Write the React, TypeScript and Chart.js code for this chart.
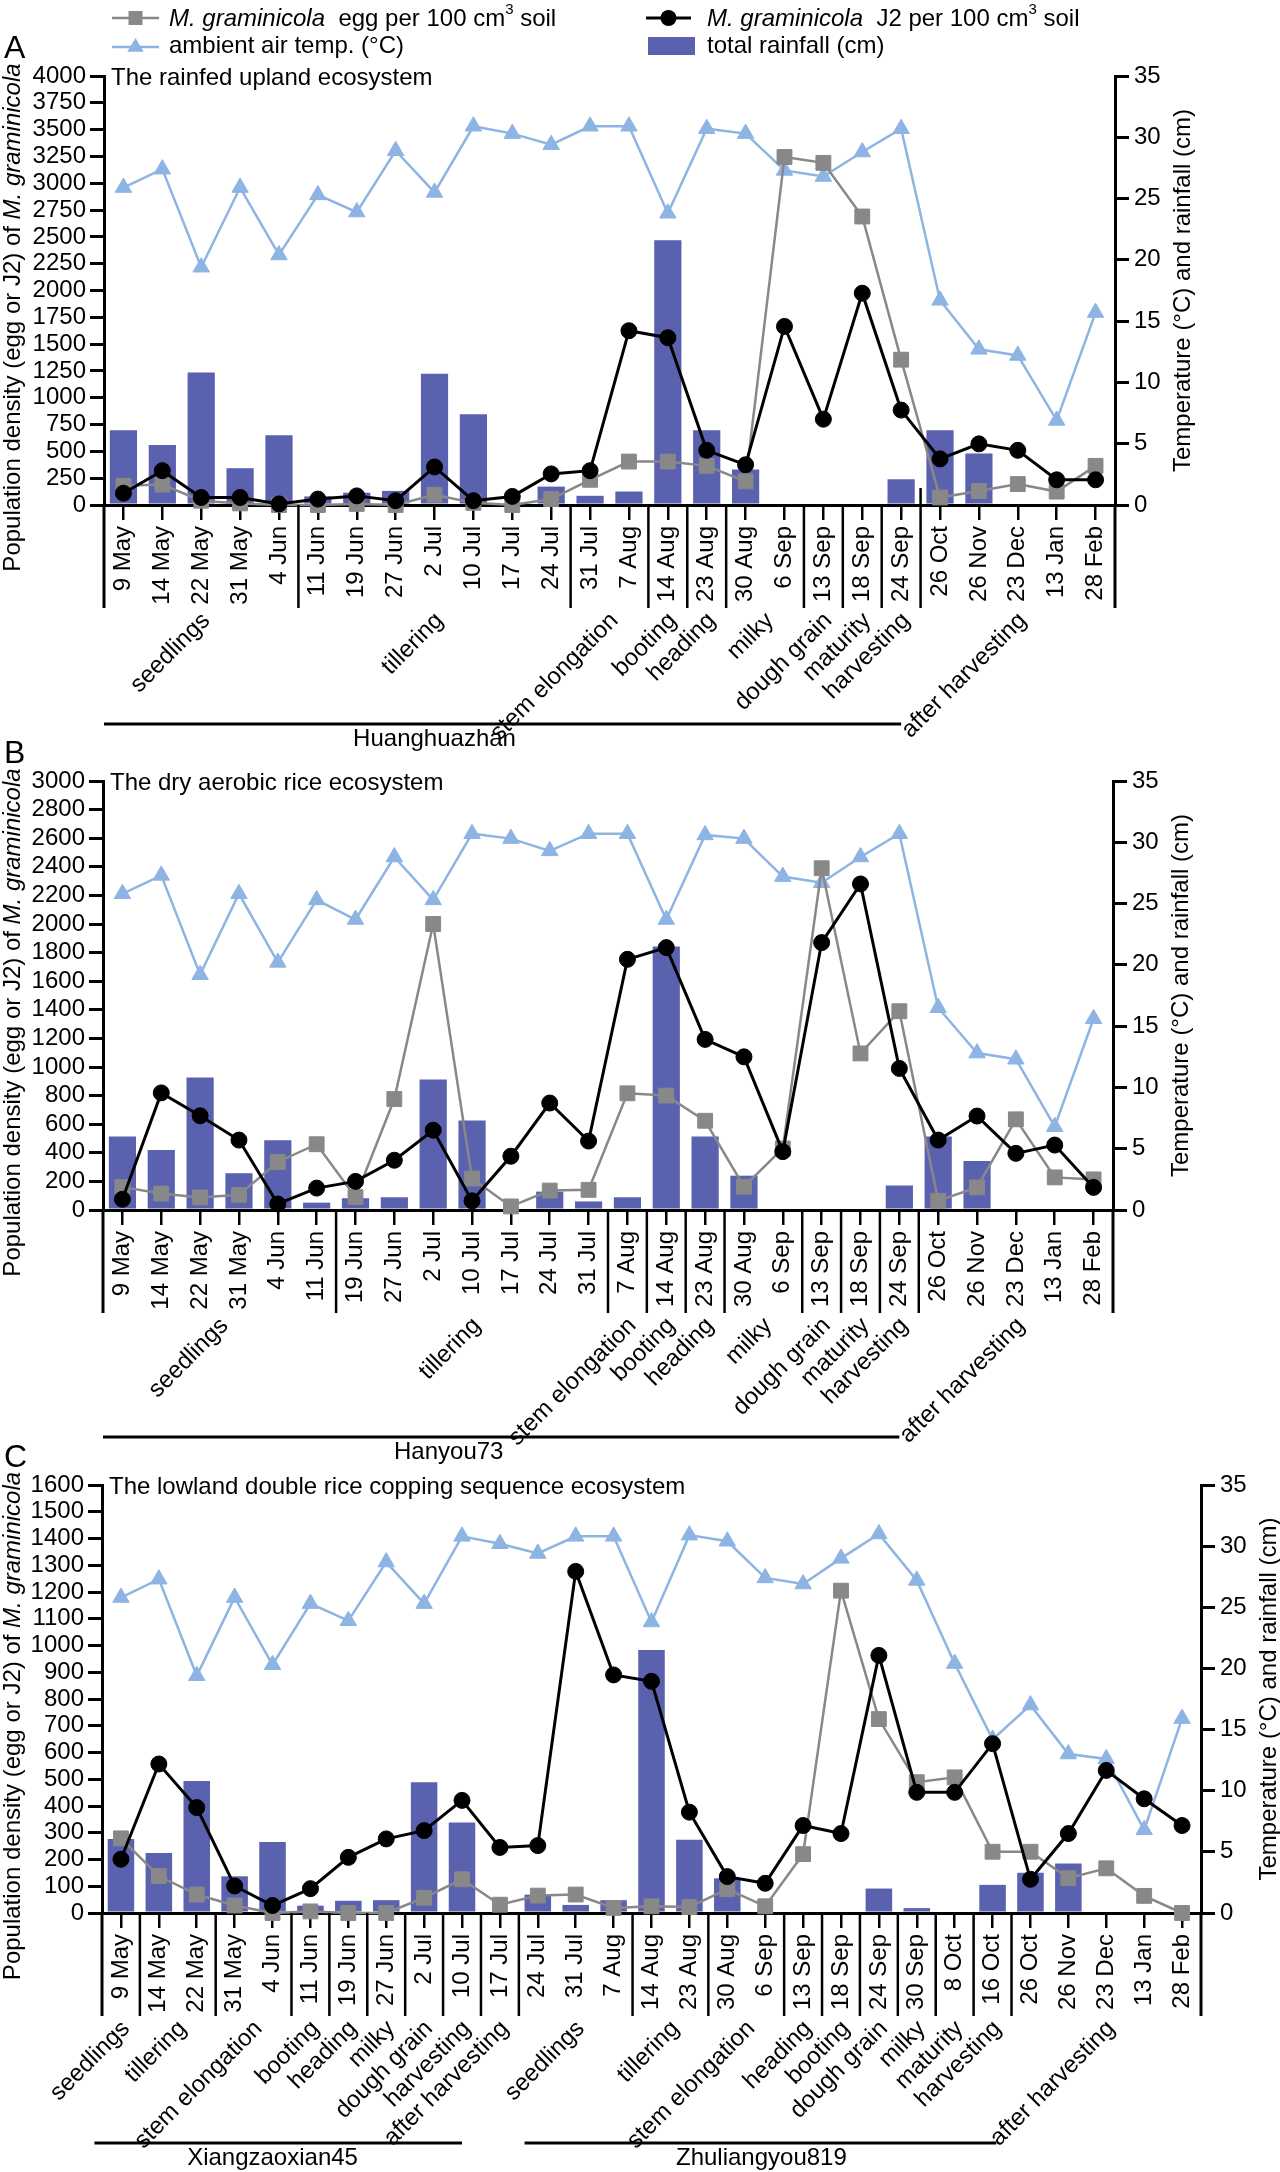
import React, { useEffect, useRef } from 'react';
import { Chart, registerables } from 'chart.js';

Chart.register(...registerables);

const FONT = '"Liberation Sans", Arial, Helvetica, sans-serif';

// ---------- categories ----------
const datesAB = ['9 May', '14 May', '22 May', '31 May', '4 Jun', '11 Jun', '19 Jun', '27 Jun', '2 Jul', '10 Jul', '17 Jul', '24 Jul', '31 Jul', '7 Aug', '14 Aug', '23 Aug', '30 Aug', '6 Sep', '13 Sep', '18 Sep', '24 Sep', '26 Oct', '26 Nov', '23 Dec', '13 Jan', '28 Feb'];
const datesC = ['9 May', '14 May', '22 May', '31 May', '4 Jun', '11 Jun', '19 Jun', '27 Jun', '2 Jul', '10 Jul', '17 Jul', '24 Jul', '31 Jul', '7 Aug', '14 Aug', '23 Aug', '30 Aug', '6 Sep', '13 Sep', '18 Sep', '24 Sep', '30 Sep', '8 Oct', '16 Oct', '26 Oct', '26 Nov', '23 Dec', '13 Jan', '28 Feb'];

// ---------- panel A: rainfed upland ----------
const eggA = [180, 190, 40, 15, 0, 0, 10, 0, 95, 20, 0, 55, 235, 405, 405, 365, 220, 3245, 3190, 2690, 1355, 70, 130, 195, 125, 365];
const j2A = [110, 320, 70, 70, 10, 55, 85, 40, 355, 40, 80, 290, 320, 1625, 1560, 510, 375, 1665, 800, 1975, 885, 430, 570, 510, 235, 235];
const tempA = [25.9, 27.4, 19.4, 25.9, 20.4, 25.3, 23.9, 28.9, 25.5, 30.9, 30.3, 29.4, 30.9, 30.9, 23.8, 30.7, 30.3, 27.3, 26.8, 28.8, 30.7, 16.7, 12.7, 12.2, 6.9, 15.7];
const rainA = [6.1, 4.9, 10.8, 3.0, 5.7, 0.7, 1.0, 1.15, 10.7, 7.4, 0, 1.5, 0.75, 1.1, 21.6, 6.1, 2.9, 0, 0, 0, 2.1, 6.1, 4.2, 0, 0, 0];

// ---------- panel B: dry aerobic rice ----------
const eggB = [160, 115, 88, 106, 336, 460, 90, 776, 2000, 220, 25, 136, 141, 816, 800, 624, 163, 430, 2390, 1095, 1390, 65, 158, 634, 228, 214];
const j2B = [75, 819, 659, 489, 42, 153, 200, 348, 558, 64, 376, 748, 482, 1753, 1835, 1193, 1071, 408, 1870, 2280, 990, 489, 657, 396, 454, 158];
const tempB = [25.8, 27.3, 19.2, 25.8, 20.2, 25.3, 23.7, 28.8, 25.3, 30.7, 30.3, 29.3, 30.7, 30.7, 23.7, 30.6, 30.3, 27.2, 26.7, 28.8, 30.7, 16.5, 12.8, 12.3, 6.8, 15.6];
const rainB = [6.0, 4.9, 10.8, 3.0, 5.7, 0.6, 0.96, 1.04, 10.65, 7.3, 0, 1.5, 0.7, 1.04, 21.5, 6.0, 2.8, 0, 0, 0, 2.0, 6.0, 4.0, 0, 0, 0];

// ---------- panel C: lowland double rice ----------
const eggC = [279, 138, 69, 28, 0, 6, 0, 0, 57, 126, 31, 65, 69, 19, 25, 22, 89, 25, 220, 1205, 725, 489, 507, 229, 229, 130, 167, 64, 0];
const j2C = [201, 557, 394, 101, 28, 91, 208, 277, 308, 421, 245, 252, 1277, 890, 866, 377, 136, 111, 327, 297, 963, 451, 451, 633, 126, 297, 533, 427, 327];
const tempC = [25.8, 27.3, 19.4, 25.8, 20.3, 25.3, 23.9, 28.7, 25.3, 30.8, 30.2, 29.4, 30.8, 30.8, 23.8, 30.9, 30.4, 27.4, 26.9, 29.0, 31.0, 27.2, 20.4, 14.2, 17.0, 13.0, 12.6, 6.8, 15.9];
const rainC = [6.05, 4.9, 10.8, 3.0, 5.8, 0.6, 1.0, 1.05, 10.7, 7.4, 0, 1.5, 0.66, 1.05, 21.5, 6.0, 2.84, 0, 0, 0, 2.0, 0.4, 0, 2.3, 3.3, 4.05, 0, 0, 0];

// ---------- growth stages (category index ranges) ----------
const stagesA = [
  { label: 'seedlings', from: 0, to: 4 },
  { label: 'tillering', from: 5, to: 11 },
  { label: 'stem elongation', from: 12, to: 13 },
  { label: 'booting', from: 14, to: 14 },
  { label: 'heading', from: 15, to: 15 },
  { label: 'milky', from: 16, to: 17 },
  { label: 'dough grain', from: 18, to: 18 },
  { label: 'maturity', from: 19, to: 19 },
  { label: 'harvesting', from: 20, to: 20 },
  { label: 'after harvesting', from: 21, to: 25 },
];
const stagesB = [
  { label: 'seedlings', from: 0, to: 5 },
  { label: 'tillering', from: 6, to: 12 },
  { label: 'stem elongation', from: 13, to: 13 },
  { label: 'booting', from: 14, to: 14 },
  { label: 'heading', from: 15, to: 15 },
  { label: 'milky', from: 16, to: 17 },
  { label: 'dough grain', from: 18, to: 18 },
  { label: 'maturity', from: 19, to: 19 },
  { label: 'harvesting', from: 20, to: 20 },
  { label: 'after harvesting', from: 21, to: 25 },
];
const stagesC = [
  { label: 'seedlings', from: 0, to: 0 },
  { label: 'tillering', from: 1, to: 2 },
  { label: 'stem elongation', from: 3, to: 4 },
  { label: 'booting', from: 5, to: 5 },
  { label: 'heading', from: 6, to: 6 },
  { label: 'milky', from: 7, to: 7 },
  { label: 'dough grain', from: 8, to: 8 },
  { label: 'harvesting', from: 9, to: 9 },
  { label: 'after harvesting', from: 10, to: 10 },
  { label: 'seedlings', from: 11, to: 13 },
  { label: 'tillering', from: 14, to: 15 },
  { label: 'stem elongation', from: 16, to: 17 },
  { label: 'heading', from: 18, to: 18 },
  { label: 'booting', from: 19, to: 19 },
  { label: 'dough grain', from: 20, to: 20 },
  { label: 'milky', from: 21, to: 21 },
  { label: 'maturity', from: 22, to: 22 },
  { label: 'harvesting', from: 23, to: 23 },
  { label: 'after harvesting', from: 24, to: 28 },
];

// cultivar brackets (positions in category units)
const cultivarsA = [{ name: 'Huanghuazhan', lineFrom: -0.5, lineTo: 20, textAt: 8 }];
const cultivarsB = [{ name: 'Hanyou73', lineFrom: -0.5, lineTo: 20, textAt: 8.4 }];
const cultivarsC = [
  { name: 'Xiangzaoxian45', lineFrom: -0.7, lineTo: 9, textAt: 4 },
  { name: 'Zhuliangyou819', lineFrom: 10.65, lineTo: 23.1, textAt: 16.9 },
];

const COLORS = { egg: '#888888', j2: '#000000', temp: '#8db4e2', rain: '#5a61ae' };

type Seg = { t: string; i?: boolean; sup?: boolean };

function segFont(s: Seg, size: number) {
  return `${s.i ? 'italic ' : ''}${s.sup ? Math.round(size * 0.62) : size}px ${FONT}`;
}
function measureRich(ctx: CanvasRenderingContext2D, segs: Seg[], size: number) {
  let w = 0;
  for (const s of segs) {
    ctx.font = segFont(s, size);
    w += ctx.measureText(s.t).width;
  }
  return w;
}
function drawRich(ctx: CanvasRenderingContext2D, segs: Seg[], x: number, y: number, size: number) {
  let cx = x;
  for (const s of segs) {
    ctx.font = segFont(s, size);
    ctx.fillText(s.t, cx, s.sup ? y - size * 0.5 : y);
    cx += ctx.measureText(s.t).width;
  }
}

function line(ctx: CanvasRenderingContext2D, x1: number, y1: number, x2: number, y2: number) {
  ctx.beginPath();
  ctx.moveTo(x1, y1);
  ctx.lineTo(x2, y2);
  ctx.stroke();
}

function drawLegend(ctx: CanvasRenderingContext2D) {
  ctx.save();
  ctx.textAlign = 'left';
  ctx.textBaseline = 'alphabetic';
  ctx.fillStyle = '#000';
  // egg
  ctx.strokeStyle = COLORS.egg;
  ctx.lineWidth = 2.5;
  line(ctx, 112, 18, 159, 18);
  ctx.fillStyle = COLORS.egg;
  ctx.fillRect(128.5, 11, 14, 14);
  ctx.fillStyle = '#000';
  drawRich(ctx, [{ t: 'M. graminicola', i: true }, { t: '  egg per 100 cm' }, { t: '3', sup: true }, { t: ' soil' }], 169, 26, 24);
  // temp
  ctx.strokeStyle = COLORS.temp;
  line(ctx, 112, 47, 159, 47);
  ctx.fillStyle = COLORS.temp;
  ctx.beginPath();
  ctx.moveTo(135.5, 38);
  ctx.lineTo(135.5 - 9.5 * 0.866, 47 + 4.75);
  ctx.lineTo(135.5 + 9.5 * 0.866, 47 + 4.75);
  ctx.closePath();
  ctx.fill();
  ctx.fillStyle = '#000';
  drawRich(ctx, [{ t: 'ambient air temp. (°C)' }], 169, 53, 24);
  // J2
  ctx.strokeStyle = '#000';
  ctx.lineWidth = 3;
  line(ctx, 646, 18, 691, 18);
  ctx.beginPath();
  ctx.arc(668.5, 18, 8, 0, Math.PI * 2);
  ctx.fill();
  drawRich(ctx, [{ t: 'M. graminicola', i: true }, { t: '  J2 per 100 cm' }, { t: '3', sup: true }, { t: ' soil' }], 707, 26, 24);
  // rain
  ctx.fillStyle = COLORS.rain;
  ctx.fillRect(648, 37, 47, 18);
  ctx.fillStyle = '#000';
  drawRich(ctx, [{ t: 'total rainfall (cm)' }], 707, 53, 24);
  ctx.restore();
}

function makeDecor(cfg: any) {
  return {
    id: 'decor' + cfg.letter,
    afterDraw(chart: any) {
      const ctx: CanvasRenderingContext2D = chart.ctx;
      const a = chart.chartArea;
      const xs = chart.scales.x;
      const p0 = xs.getPixelForValue(0);
      const step = xs.getPixelForValue(1) - p0;
      const pos = (p: number) => p0 + p * step;
      ctx.save();
      ctx.fillStyle = '#000';
      ctx.strokeStyle = '#000';
      // dividers between growth stages
      const DL = 103;
      ctx.lineWidth = 2.5;
      cfg.stages.slice(0, -1).forEach((s: any) => {
        const x = pos(s.to + 0.5);
        const y0 = cfg.upDivider === s.to ? a.bottom - 17 : a.bottom;
        line(ctx, x, y0, x, a.bottom + DL);
      });
      ctx.lineWidth = 3;
      line(ctx, a.left, a.bottom, a.left, a.bottom + DL);
      line(ctx, a.right, a.bottom, a.right, a.bottom + DL);
      // stage labels
      ctx.font = `24px ${FONT}`;
      ctx.textAlign = 'right';
      ctx.textBaseline = 'middle';
      cfg.stages.forEach((s: any) => {
        const cx = pos((s.from + s.to) / 2) + 5;
        ctx.save();
        ctx.translate(cx, a.bottom + 112);
        ctx.rotate(-Math.PI / 4);
        ctx.fillText(s.label, 0, 0);
        ctx.restore();
      });
      // cultivar brackets
      ctx.lineWidth = 3;
      ctx.textAlign = 'center';
      ctx.textBaseline = 'alphabetic';
      cfg.cultivars.forEach((c: any) => {
        const y = a.bottom + cfg.cultivarDy;
        line(ctx, pos(c.lineFrom), y, pos(c.lineTo), y);
        ctx.fillText(c.name, pos(c.textAt), y + 22);
      });
      // in-plot title
      ctx.textAlign = 'left';
      ctx.fillText(cfg.title, a.left + 7, a.top + 9);
      // panel letter
      ctx.font = `32px ${FONT}`;
      ctx.fillText(cfg.letter, 4, a.top - 18);
      // left axis title
      const mid = (a.top + a.bottom) / 2;
      const segs: Seg[] = [{ t: 'Population density (egg or J2) of ' }, { t: 'M. graminicola', i: true }];
      const w = measureRich(ctx, segs, 24);
      ctx.save();
      ctx.translate(13, mid + 27);
      ctx.rotate(-Math.PI / 2);
      ctx.textBaseline = 'middle';
      drawRich(ctx, segs, -w / 2, 0, 24);
      ctx.restore();
      // right axis title
      ctx.save();
      ctx.translate(a.right + 68, mid);
      ctx.rotate(-Math.PI / 2);
      ctx.textAlign = 'center';
      ctx.textBaseline = 'middle';
      ctx.font = `24px ${FONT}`;
      ctx.fillText('Temperature (°C) and rainfall (cm)', 0, 0);
      ctx.restore();
      if (cfg.legend) drawLegend(ctx);
      ctx.restore();
    },
  };
}

const tickFont = { family: FONT, size: 24 };
const plainNumber = (v: any) => String(v);

const panels = [
  {
    letter: 'A', canvasTop: 0, canvasHeight: 770,
    pad: { left: 104, right: 165, top: 76, bottom: 265 },
    labels: datesAB, egg: eggA, j2: j2A, temp: tempA, rain: rainA,
    yMax: 4000, yStep: 250, title: 'The rainfed upland ecosystem',
    stages: stagesA, cultivars: cultivarsA, cultivarDy: 219, upDivider: 20, legend: true,
  },
  {
    letter: 'B', canvasTop: 720, canvasHeight: 750,
    pad: { left: 103, right: 167, top: 61, bottom: 260 },
    labels: datesAB, egg: eggB, j2: j2B, temp: tempB, rain: rainB,
    yMax: 3000, yStep: 200, title: 'The dry aerobic rice ecosystem',
    stages: stagesB, cultivars: cultivarsB, cultivarDy: 227, upDivider: -1, legend: false,
  },
  {
    letter: 'C', canvasTop: 1420, canvasHeight: 752,
    pad: { left: 102, right: 79, top: 65, bottom: 259 },
    labels: datesC, egg: eggC, j2: j2C, temp: tempC, rain: rainC,
    yMax: 1600, yStep: 100, title: 'The lowland double rice copping sequence ecosystem',
    stages: stagesC, cultivars: cultivarsC, cultivarDy: 230, upDivider: -1, legend: false,
  },
];

function Panel({ cfg }: { cfg: any }) {
  const ref = useRef<HTMLCanvasElement>(null);
  useEffect(() => {
    const chart = new Chart(ref.current as HTMLCanvasElement, {
      type: 'bar',
      data: {
        labels: cfg.labels,
        datasets: [
          {
            type: 'line', label: 'J2', data: cfg.j2, yAxisID: 'y',
            borderColor: COLORS.j2, backgroundColor: COLORS.j2, borderWidth: 3,
            pointStyle: 'circle', pointRadius: 8, pointBorderWidth: 1, tension: 0, order: 1, clip: false,
          } as any,
          {
            type: 'line', label: 'egg', data: cfg.egg, yAxisID: 'y',
            borderColor: COLORS.egg, backgroundColor: COLORS.egg, borderWidth: 2.5,
            pointStyle: 'rect', pointRadius: 10.5, pointBorderWidth: 1, tension: 0, order: 2, clip: false,
          } as any,
          {
            type: 'line', label: 'temp', data: cfg.temp, yAxisID: 'y2',
            borderColor: COLORS.temp, backgroundColor: COLORS.temp, borderWidth: 2.5,
            pointStyle: 'triangle', pointRadius: 9.5, pointBorderWidth: 1, tension: 0, order: 3, clip: false,
          } as any,
          {
            type: 'bar', label: 'rain', data: cfg.rain, yAxisID: 'y2',
            backgroundColor: COLORS.rain, barPercentage: 0.7, categoryPercentage: 1, order: 4,
          } as any,
        ],
      },
      options: {
        animation: false,
        responsive: false,
        devicePixelRatio: 1,
        layout: { padding: { left: 0, right: 0, top: cfg.pad.top, bottom: 0 } },
        plugins: { legend: { display: false }, tooltip: { enabled: false }, title: { display: false } },
        scales: {
          x: {
            type: 'category', offset: true,
            grid: { display: true, drawOnChartArea: false, drawTicks: true, tickLength: 15, lineWidth: 2.5, color: '#000', offset: false },
            border: { display: true, color: '#000', width: 3 },
            ticks: { autoSkip: false, maxRotation: 90, minRotation: 90, padding: 6, color: '#000', font: tickFont },
            afterFit: (s: any) => { s.height = cfg.pad.bottom; },
          },
          y: {
            position: 'left', min: 0, max: cfg.yMax,
            ticks: { stepSize: cfg.yStep, autoSkip: false, color: '#000', padding: 4, font: tickFont, callback: plainNumber },
            grid: { drawOnChartArea: false, drawTicks: true, tickLength: 14, lineWidth: 3, color: '#000' },
            border: { display: true, color: '#000', width: 3 },
            afterFit: (s: any) => { s.width = cfg.pad.left; },
          },
          y2: {
            position: 'right', min: 0, max: 35,
            ticks: { stepSize: 5, autoSkip: false, color: '#000', padding: 5, font: tickFont, callback: plainNumber },
            grid: { drawOnChartArea: false, drawTicks: true, tickLength: 14, lineWidth: 3, color: '#000' },
            border: { display: true, color: '#000', width: 3 },
            afterFit: (s: any) => { s.width = cfg.pad.right; },
          },
        },
      } as any,
      plugins: [makeDecor(cfg)],
    });
    return () => chart.destroy();
  }, []);
  return (
    <canvas
      ref={ref}
      width={1280}
      height={cfg.canvasHeight}
      style={{ position: 'absolute', left: 0, top: cfg.canvasTop, width: 1280, height: cfg.canvasHeight }}
    />
  );
}

export default function App() {
  return (
    <div style={{ position: 'absolute', left: 0, top: 0, width: 1280, height: 2172, background: '#fff', overflow: 'hidden' }}>
      {panels.map((p) => (
        <Panel key={p.letter} cfg={p} />
      ))}
    </div>
  );
}
